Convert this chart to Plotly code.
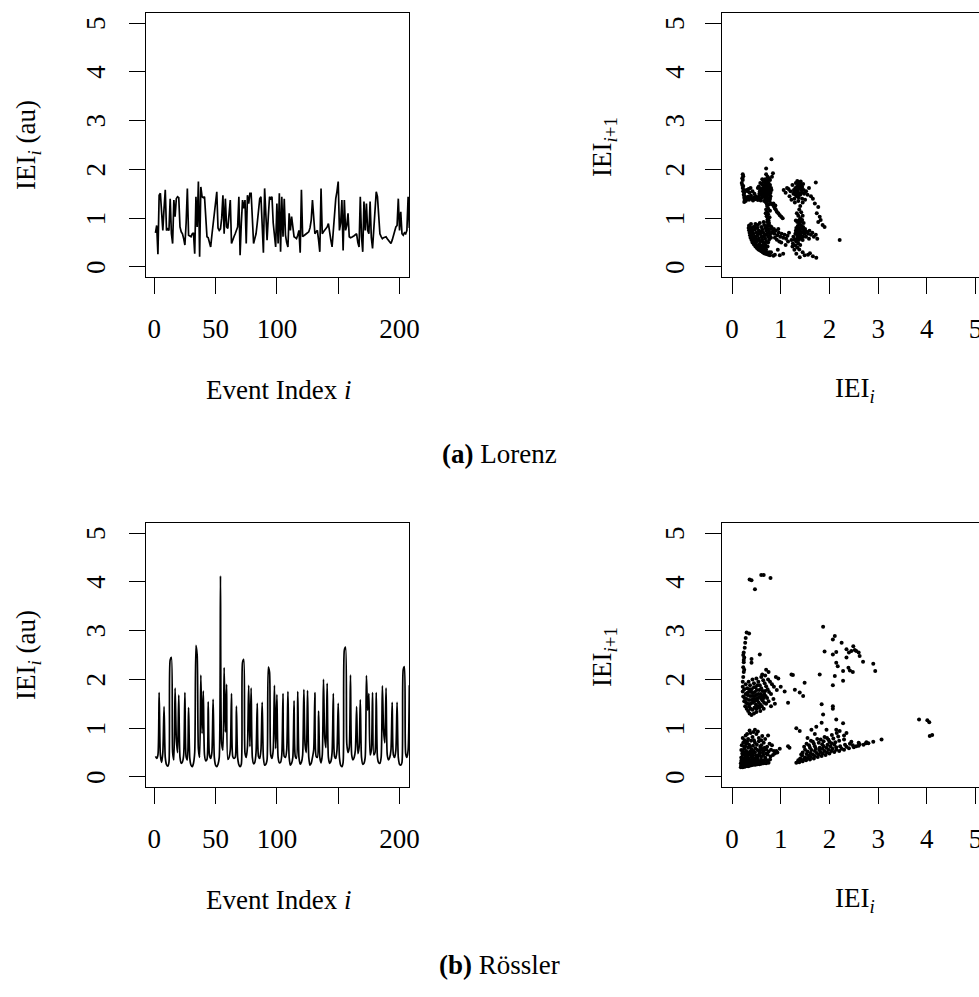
import plotly.graph_objects as go

# ---------------- data ----------------
lorenz_iei = [
    0.70, 0.85, 0.26, 1.47, 1.51, 1.10, 0.75, 1.20, 1.58, 0.75,
    0.78, 0.75, 1.40, 0.68, 0.48, 1.37, 1.03, 1.40, 1.44, 1.42,
    0.82, 0.72, 0.68, 0.58, 0.45, 0.90, 1.61, 0.65, 0.64, 0.62,
    0.68, 0.70, 0.27, 1.44, 0.82, 1.75, 0.21, 1.64, 1.44, 1.42,
    1.44, 0.96, 0.62, 0.60, 0.52, 0.41, 0.65, 0.90, 1.10, 1.35,
    1.54, 0.80, 0.75, 0.78, 1.00, 1.47, 0.68, 1.40, 0.82, 0.79,
    1.10, 1.37, 0.48, 0.58, 0.62, 0.68, 0.75, 0.82, 1.44, 0.24,
    0.90, 1.37, 1.20, 1.37, 0.48, 1.47, 1.30, 1.51, 1.51, 0.82,
    0.48, 0.58, 0.68, 0.90, 1.20, 1.40, 1.44, 0.82, 0.29, 1.61,
    1.00, 0.55, 1.03, 1.44, 1.40, 1.44, 0.90, 0.55, 0.41, 1.30,
    0.48, 1.51, 0.31, 1.44, 0.62, 1.40, 0.65, 0.50, 0.41, 1.10,
    0.75, 1.03, 0.80, 0.62, 0.60, 0.58, 0.65, 0.75, 0.29, 1.58,
    0.62, 0.65, 0.66, 0.68, 0.70, 0.72, 0.80, 0.96, 1.37, 0.90,
    0.68, 0.72, 0.75, 0.55, 0.31, 1.61, 0.68, 0.72, 0.75, 0.78,
    0.82, 0.89, 0.68, 0.55, 0.41, 0.80, 1.23, 1.40, 1.55, 1.75,
    0.75, 0.90, 1.37, 0.34, 1.37, 0.75, 0.85, 1.10, 0.62, 0.60,
    0.61, 0.62, 0.64, 0.66, 0.68, 0.50, 0.41, 1.44, 0.62, 0.31,
    1.34, 0.75, 1.30, 0.75, 0.68, 1.34, 0.60, 0.38, 0.82, 1.20,
    1.54, 1.44, 0.90, 0.68, 0.62, 0.58, 0.60, 0.61, 0.62, 0.58,
    0.55, 0.52, 0.48, 0.55, 0.65, 0.75, 0.82, 0.85, 1.40, 0.75,
    1.13, 0.68, 0.65, 0.70, 0.68, 0.75, 1.44, 0.80,
]

rossler_iei = [
    0.42, 0.38, 0.45, 1.73, 0.45, 0.30, 0.50, 1.44, 0.40, 0.25,
    0.22, 0.30, 2.40, 2.45, 0.51, 0.35, 1.82, 0.79, 0.50, 1.68,
    0.40, 0.28, 0.31, 0.45, 1.73, 0.41, 0.35, 1.42, 0.38, 0.24,
    0.21, 0.28, 0.50, 2.70, 2.50, 0.58, 0.40, 2.09, 0.89, 1.76,
    0.45, 0.33, 0.36, 1.54, 0.45, 0.38, 0.50, 1.59, 0.40, 0.24,
    0.21, 0.26, 0.40, 4.12, 0.68, 0.55, 2.24, 0.92, 1.90, 0.36,
    0.40, 0.55, 1.71, 0.42, 0.38, 0.40, 1.45, 0.40, 0.25, 0.21,
    0.26, 2.35, 2.41, 0.49, 0.40, 0.62, 1.88, 0.62, 1.82, 0.40,
    0.27, 0.30, 0.50, 1.51, 0.42, 0.38, 0.55, 1.53, 0.40, 0.24,
    0.26, 0.35, 2.25, 2.15, 0.45, 0.38, 0.55, 1.88, 0.58, 1.69,
    0.40, 0.29, 0.30, 0.45, 1.71, 0.42, 0.40, 0.55, 1.75, 0.40,
    0.24, 0.28, 0.40, 1.56, 0.42, 0.38, 1.75, 0.40, 0.26, 0.30,
    0.45, 1.79, 0.65, 0.50, 1.77, 0.40, 0.24, 0.28, 0.40, 0.55,
    1.73, 0.42, 0.40, 1.35, 0.40, 0.29, 0.45, 2.00, 0.82, 0.60,
    1.92, 0.40, 0.28, 0.32, 0.50, 1.71, 0.42, 0.38, 0.55, 1.51,
    0.40, 0.24, 0.21, 0.30, 2.60, 2.66, 0.68, 0.50, 0.60, 2.09,
    0.45, 0.35, 0.40, 0.55, 1.44, 0.48, 0.60, 1.58, 0.40, 0.26,
    0.28, 0.40, 2.08, 1.37, 1.71, 0.45, 0.55, 1.73, 0.45, 0.50,
    1.73, 0.40, 0.29, 0.28, 0.40, 1.87, 0.96, 0.70, 1.82, 0.45,
    0.35, 0.40, 0.55, 1.53, 0.45, 0.40, 0.55, 1.53, 0.40, 0.26,
    0.24, 0.30, 2.20, 2.26, 0.48, 0.40, 0.55, 1.88,
]

# return map of the Lorenz system: (IEI_i, IEI_i+1)
lorenz_map = [
    (0.22,1.90),(0.23,1.86),(0.21,1.82),(0.22,1.78),(0.20,1.72),(0.21,1.68),(0.23,1.66),(0.22,1.62),
    (0.24,1.58),(0.23,1.55),(0.25,1.52),(0.24,1.48),(0.26,1.45),(0.25,1.42),(0.27,1.40),(0.26,1.37),
    (0.28,1.35),(0.25,1.33),(0.29,1.38),(0.30,1.42),
    (0.31,1.40),(0.33,1.44),(0.35,1.38),(0.37,1.42),(0.39,1.46),(0.41,1.40),(0.43,1.36),(0.45,1.43),
    (0.47,1.39),(0.49,1.45),(0.51,1.41),(0.53,1.37),(0.55,1.44),(0.57,1.40),(0.59,1.36),(0.61,1.42),
    (0.32,1.55),(0.34,1.60),(0.36,1.52),(0.30,1.58),(0.38,1.62),(0.42,1.55),(0.46,1.50),
    (0.55,1.65),(0.58,1.72),(0.60,1.60),(0.62,1.55),(0.63,1.68),(0.65,1.75),(0.66,1.62),(0.67,1.50),
    (0.68,1.80),(0.69,1.70),(0.70,1.58),(0.71,1.45),(0.72,1.65),(0.73,1.35),(0.74,1.55),(0.75,1.72),
    (0.76,1.48),(0.77,1.62),(0.78,1.40),(0.79,1.52),(0.80,1.30),(0.81,1.58),(0.68,1.40),(0.70,1.32),
    (0.72,1.25),(0.74,1.20),(0.76,1.28),(0.64,1.45),(0.66,1.35),(0.78,1.78),(0.73,1.85),(0.70,1.90),
    (0.82,1.85),(0.84,1.92),(0.70,2.02),(0.81,2.21),(0.62,1.80),(0.57,1.55),(0.53,1.62),
    (0.61,1.70),(0.64,1.62),(0.66,1.78),(0.67,1.56),(0.69,1.64),(0.70,1.75),(0.71,1.52),(0.72,1.42),
    (0.73,1.60),(0.74,1.68),(0.75,1.38),(0.76,1.58),(0.77,1.50),(0.78,1.68),(0.79,1.45),(0.80,1.62),
    (0.71,1.30),(0.73,1.48),(0.75,1.62),(0.77,1.35),(0.69,1.50),(0.67,1.68),(0.65,1.55),(0.63,1.50),
    (0.60,1.48),(0.58,1.60),(0.56,1.50),(0.74,1.78),(0.76,1.82),(0.72,1.72),
    (0.70,1.18),(0.72,1.12),(0.74,1.08),(0.71,1.04),(0.73,0.98),(0.75,0.95),(0.72,0.92),(0.76,0.90),
    (0.74,0.86),(0.78,1.15),(0.69,1.10),(0.77,1.02),
    (0.83,1.28),(0.86,1.24),(0.88,1.20),(0.90,1.17),(0.92,1.13),(0.95,1.10),(0.98,1.06),(1.01,1.03),
    (1.04,1.00),(0.85,1.30),(0.89,1.26),
    (0.35,0.85),(0.34,0.80),(0.35,0.75),(0.36,0.70),(0.37,0.65),(0.38,0.60),(0.40,0.55),(0.42,0.50),
    (0.45,0.46),(0.48,0.42),(0.51,0.39),(0.54,0.36),(0.57,0.34),(0.60,0.32),(0.63,0.30),(0.66,0.28),
    (0.69,0.27),(0.72,0.26),(0.75,0.25),(0.78,0.24),(0.36,0.82),(0.38,0.72),(0.40,0.63),(0.43,0.55),
    (0.46,0.50),(0.50,0.45),(0.53,0.42),(0.56,0.40),(0.59,0.37),(0.62,0.35),(0.65,0.33),(0.68,0.31),
    (0.71,0.29),
    (0.40,0.80),(0.42,0.74),(0.44,0.68),(0.46,0.62),(0.48,0.57),(0.50,0.52),(0.44,0.82),(0.47,0.76),
    (0.50,0.70),(0.52,0.64),(0.55,0.58),(0.58,0.52),(0.52,0.80),(0.55,0.74),(0.58,0.68),(0.60,0.62),
    (0.62,0.56),(0.64,0.50),(0.60,0.82),(0.62,0.76),(0.64,0.70),(0.66,0.64),(0.68,0.58),(0.70,0.52),
    (0.66,0.86),(0.68,0.80),(0.70,0.74),(0.72,0.68),(0.74,0.62),(0.76,0.56),(0.72,0.84),(0.74,0.78),
    (0.76,0.72),(0.78,0.66),(0.80,0.60),(0.78,0.84),(0.80,0.78),(0.82,0.70),(0.56,0.47),(0.62,0.44),
    (0.68,0.46),(0.74,0.50),(0.39,0.88),(0.48,0.88),(0.57,0.90),(0.65,0.92),(0.45,0.60),(0.55,0.55),
    (0.67,0.40),(0.73,0.42),(0.80,0.30),(0.85,0.23),(0.88,0.25),
    (0.37,0.78),(0.39,0.68),(0.41,0.60),(0.44,0.52),(0.47,0.47),(0.52,0.44),(0.58,0.42),(0.64,0.38),
    (0.70,0.35),(0.76,0.30),(0.41,0.70),(0.49,0.62),(0.54,0.68),(0.63,0.62),(0.69,0.66),(0.71,0.80),
    (0.60,0.72),(0.47,0.82),(0.53,0.86),(0.81,0.82),
    (0.84,0.72),(0.87,0.68),(0.90,0.74),(0.93,0.65),(0.96,0.70),(0.99,0.62),(1.02,0.68),(1.05,0.60),
    (1.08,0.66),(1.11,0.58),(1.14,0.64),(1.17,0.70),(0.88,0.60),(0.92,0.56),(0.97,0.52),(1.01,0.50),
    (0.98,0.24),(1.05,0.27),(0.94,0.35),(1.10,0.45),(1.15,0.52),(0.86,0.78),(0.95,0.78),
    (1.06,1.58),(1.10,1.52),(1.13,1.62),(1.18,1.45),(1.20,1.55),(1.24,1.68),(1.26,1.50),(1.28,1.40),
    (1.30,1.62),(1.31,1.72),(1.33,1.45),(1.35,1.55),(1.36,1.35),(1.38,1.65),(1.40,1.48),(1.42,1.58),
    (1.44,1.40),(1.46,1.70),(1.48,1.50),(1.50,1.38),(1.52,1.55),(1.55,1.48),(1.58,1.62),(1.62,1.45),
    (1.66,1.40),(1.72,1.73),(1.29,1.32),(1.34,1.76),(1.41,1.75),(1.22,1.38),(1.16,1.60),(1.37,1.42),
    (1.45,1.32),(1.27,1.58),
    (1.32,1.52),(1.34,1.66),(1.36,1.60),(1.38,1.50),(1.39,1.72),(1.41,1.62),(1.43,1.52),(1.37,1.70),
    (1.33,1.58),(1.30,1.48),(1.44,1.64),(1.47,1.58),(1.35,1.48),(1.42,1.68),(1.28,1.55),
    (1.40,1.25),(1.38,1.18),(1.42,1.12),(1.36,1.05),(1.40,1.00),(1.44,0.96),(1.34,0.92),(1.38,0.88),
    (1.42,0.85),(1.46,0.82),(1.32,0.80),(1.36,0.76),(1.40,0.72),(1.44,0.70),(1.30,0.68),(1.34,0.64),
    (1.38,0.60),(1.42,0.58),(1.46,0.62),(1.28,0.56),(1.32,0.52),(1.36,0.48),(1.40,0.45),(1.30,0.44),
    (1.34,0.40),(1.38,0.36),(1.28,0.35),(1.25,0.48),(1.22,0.55),(1.48,0.75),(1.45,1.05),(1.33,1.10),
    (1.31,0.95),(1.47,0.90),(1.26,0.62),(1.24,0.42),
    (1.37,0.95),(1.41,0.92),(1.39,0.80),(1.43,0.78),(1.35,0.70),(1.39,0.66),(1.33,0.58),(1.37,0.55),
    (1.41,0.65),(1.45,0.55),(1.35,0.84),(1.31,0.74),
    (1.50,0.78),(1.53,0.72),(1.56,0.68),(1.59,0.74),(1.62,0.66),(1.65,0.70),(1.68,0.62),(1.72,0.66),
    (1.52,0.62),(1.58,0.58),(1.75,0.58),(1.49,0.68),
    (1.32,0.27),(1.39,0.20),(1.49,0.24),(1.56,0.25),(1.66,0.22),(1.73,0.19),(1.45,0.30),(1.60,0.28),
    (1.77,1.23),(1.80,1.03),(1.86,0.86),(1.90,0.82),(1.77,0.92),(1.74,1.10),(2.21,0.55),(1.70,1.30),
    (1.82,0.96),
]

# return map of the Rossler system: (IEI_i, IEI_i+1)
rossler_map = [
    # lower-left blob
    (0.18,0.20),(0.20,0.21),(0.22,0.20),(0.24,0.22),(0.26,0.21),(0.28,0.22),(0.30,0.23),(0.33,0.22),
    (0.36,0.23),(0.40,0.24),(0.44,0.25),(0.48,0.25),(0.52,0.26),(0.56,0.26),(0.60,0.27),(0.65,0.28),
    (0.70,0.28),(0.75,0.29),
    (0.18,0.28),(0.21,0.30),(0.24,0.27),(0.27,0.32),(0.30,0.29),(0.33,0.34),(0.36,0.30),(0.39,0.33),
    (0.42,0.29),(0.45,0.35),(0.48,0.31),(0.51,0.34),(0.55,0.32),(0.60,0.35),(0.66,0.33),(0.72,0.34),
    (0.78,0.36),
    (0.19,0.40),(0.22,0.45),(0.25,0.38),(0.28,0.47),(0.31,0.42),(0.34,0.39),(0.37,0.46),(0.40,0.41),
    (0.43,0.48),(0.46,0.38),(0.49,0.44),(0.52,0.40),(0.56,0.47),(0.60,0.42),(0.64,0.45),(0.68,0.40),
    (0.73,0.46),(0.79,0.42),(0.84,0.45),(0.88,0.48),
    (0.19,0.55),(0.22,0.52),(0.25,0.58),(0.29,0.53),(0.33,0.60),(0.36,0.51),(0.40,0.57),(0.44,0.53),
    (0.48,0.59),(0.52,0.55),(0.56,0.51),(0.61,0.58),(0.65,0.53),(0.70,0.57),(0.75,0.52),(0.80,0.56),
    (0.86,0.53),(0.91,0.53),
    (0.20,0.65),(0.23,0.70),(0.27,0.63),(0.31,0.72),(0.35,0.66),(0.39,0.74),(0.43,0.64),(0.47,0.70),
    (0.51,0.66),(0.55,0.73),(0.60,0.65),(0.65,0.70),(0.72,0.62),(0.77,0.68),(0.82,0.65),
    (0.22,0.80),(0.28,0.85),(0.33,0.78),(0.38,0.90),(0.42,0.82),(0.47,0.97),(0.50,0.88),(0.55,0.80),
    (0.62,0.84),(0.68,0.78),(0.74,0.85),(0.36,0.95),(0.44,0.92),
    (1.15,0.63),(1.18,0.60),(0.98,0.58),(0.93,0.50),
    (0.19,0.24),(0.21,0.26),(0.23,0.24),(0.25,0.25),(0.27,0.26),(0.29,0.25),(0.31,0.27),(0.19,0.33),
    (0.23,0.35),(0.26,0.34),(0.29,0.36),(0.20,0.37),
    (0.20,0.23),(0.22,0.28),(0.24,0.31),(0.26,0.29),(0.28,0.33),(0.30,0.31),(0.32,0.28),(0.34,0.27),
    (0.35,0.36),(0.38,0.27),(0.41,0.36),(0.43,0.31),(0.46,0.28),(0.50,0.29),(0.53,0.37),(0.57,0.30),
    (0.62,0.31),(0.68,0.36),(0.21,0.48),(0.24,0.50),(0.27,0.43),(0.30,0.50),(0.33,0.46),(0.38,0.52),
    (0.42,0.44),(0.47,0.50),(0.54,0.44),(0.58,0.56),(0.63,0.50),(0.70,0.48),(0.25,0.62),(0.29,0.68),
    (0.37,0.62),(0.45,0.75),(0.58,0.62),(0.67,0.60),(0.26,0.75),(0.31,0.88),(0.53,0.93),(0.60,0.75),
    # upper-left cluster
    (0.23,2.05),(0.24,2.15),(0.23,2.25),(0.24,2.35),(0.25,2.45),(0.24,2.55),(0.26,2.65),(0.27,2.75),
    (0.28,2.85),(0.30,2.96),(0.35,2.94),(0.23,2.50),(0.25,2.20),(0.22,1.95),(0.24,2.40),
    (0.22,1.85),(0.22,1.75),(0.23,1.65),(0.25,1.55),(0.27,1.45),(0.30,1.40),(0.33,1.35),(0.36,1.30),
    (0.40,1.27),(0.45,1.30),(0.50,1.33),(0.25,1.80),(0.28,1.70),(0.30,1.60),(0.32,1.50),(0.35,1.45),
    (0.38,1.40),(0.42,1.38),(0.46,1.42),(0.50,1.40),(0.28,1.90),(0.31,1.82),(0.34,1.74),(0.37,1.66),
    (0.40,1.58),(0.43,1.52),(0.46,1.55),(0.49,1.48),(0.53,1.45),(0.56,1.42),(0.34,1.95),(0.37,1.88),
    (0.40,1.80),(0.43,1.72),(0.46,1.66),(0.49,1.60),(0.52,1.56),(0.55,1.52),(0.58,1.48),(0.61,1.45),
    (0.42,2.00),(0.45,1.92),(0.48,1.84),(0.51,1.78),(0.54,1.70),(0.57,1.64),(0.60,1.60),(0.63,1.56),
    (0.66,1.52),(0.50,2.02),(0.54,1.95),(0.57,1.88),(0.60,1.82),(0.63,1.76),(0.66,1.70),(0.69,1.66),
    (0.72,1.62),(0.60,2.05),(0.64,1.98),(0.67,1.92),(0.70,1.86),(0.73,1.80),(0.76,1.74),(0.80,1.70),
    (0.62,2.10),(0.68,2.08),(0.74,2.00),(0.78,1.95),(0.82,1.90),(0.86,1.85),(0.90,2.05),(0.95,2.02),
    (0.70,1.50),(0.75,1.55),(0.80,1.45),(0.85,1.60),(0.65,1.40),(0.58,1.35),(0.88,1.50),(0.40,2.42),
    (0.57,2.51),(0.40,2.34),(0.70,2.20),(0.75,2.15),
    (0.26,1.62),(0.29,1.52),(0.32,1.68),(0.35,1.58),(0.38,1.50),(0.41,1.66),(0.44,1.60),(0.47,1.74),
    (0.50,1.68),(0.53,1.62),(0.56,1.78),(0.59,1.70),(0.62,1.66),(0.65,1.62),(0.68,1.76),(0.39,1.74),
    (0.45,1.84),(0.52,1.88),(0.31,1.72),(0.36,1.80),
    (1.08,1.75),(1.15,1.52),(1.29,1.79),(1.39,1.73),(1.46,1.66),(1.49,1.93),(1.25,2.09),(1.22,2.10),
    (1.00,1.85),(0.92,1.78),
    # lower-right wedge
    (1.32,0.29),(1.38,0.30),(1.45,0.32),(1.52,0.34),(1.60,0.36),(1.68,0.38),(1.76,0.41),(1.84,0.43),
    (1.92,0.45),(2.00,0.48),(2.10,0.51),(2.20,0.53),(2.30,0.56),(2.40,0.59),(2.50,0.61),(2.60,0.64),
    (2.70,0.66),(2.80,0.69),(2.90,0.72),(3.07,0.77),
    (1.40,0.38),(1.50,0.40),(1.58,0.44),(1.66,0.46),(1.74,0.49),(1.82,0.51),(1.90,0.53),(1.98,0.56),
    (2.06,0.58),(2.14,0.61),(2.22,0.63),(2.32,0.66),(2.42,0.68),
    (1.45,0.50),(1.55,0.52),(1.63,0.55),(1.72,0.58),(1.80,0.60),(1.88,0.63),(1.96,0.66),(2.04,0.69),
    (2.12,0.71),(2.20,0.74),(2.30,0.77),
    (1.48,0.62),(1.58,0.65),(1.68,0.68),(1.78,0.70),(1.88,0.73),(1.98,0.76),(2.08,0.79),(2.18,0.83),
    (1.62,0.74),(1.75,0.78),(1.90,0.82),(2.05,0.86),(2.15,0.90),
    (1.36,0.34),(1.42,0.35),(1.48,0.37),(1.55,0.39),(1.62,0.41),(1.70,0.43),(1.78,0.46),(1.86,0.48),
    (1.95,0.50),(2.04,0.53),(2.14,0.56),(2.25,0.58),(2.35,0.62),(2.48,0.65),(2.62,0.67),(2.75,0.69),
    (1.44,0.44),(1.53,0.47),(1.61,0.49),(1.70,0.53),(1.79,0.55),(1.86,0.58),(1.94,0.60),(2.02,0.63),
    (2.10,0.66),(1.50,0.56),(1.60,0.60),(1.70,0.63),(1.85,0.67),(2.00,0.72),(1.53,0.68),(1.66,0.72),
    (1.82,0.77),(1.95,0.80),(1.42,0.46),
    (1.32,1.00),(1.39,0.94),(1.63,0.97),(1.73,1.03),(1.94,0.97),(2.14,0.97),(2.21,0.94),(1.84,1.49),
    (1.87,1.28),(1.84,1.11),(2.07,1.45),(2.07,1.40),(2.14,1.18),(2.28,1.10),(2.35,0.90),(2.55,0.63),
    (2.76,0.71),(2.60,0.70),(2.45,0.72),(1.55,0.80),(1.70,0.88),(2.30,0.85),
    # upper-right cluster
    (1.87,3.08),(2.11,2.89),(2.07,2.82),(2.25,2.75),(1.90,2.57),(2.07,2.51),(2.14,2.56),(2.35,2.62),
    (2.49,2.68),(2.55,2.58),(2.62,2.48),(2.69,2.36),(2.35,2.45),(2.45,2.58),(2.52,2.60),(2.14,2.34),
    (2.17,2.27),(2.39,2.24),(2.42,2.18),(2.28,2.17),(2.48,2.15),(2.90,2.32),(2.94,2.17),(1.80,2.10),
    (2.11,2.07),(2.07,1.88),(2.28,1.97),(2.40,2.55),(2.60,2.55),
    # isolated groups
    (0.36,4.05),(0.40,4.03),(0.47,3.85),(0.60,4.14),(0.65,4.14),(0.79,4.08),
    (3.84,1.18),(4.01,1.16),(4.05,1.12),(4.06,0.84),(4.11,0.86),
]

index_ticks = [0, 50, 100, 150, 200]
index_ticktext = ["0", "50", "100", "", "200"]
iei_ticks = [0, 1, 2, 3, 4, 5]

# ---------------- figure ----------------
W, H = 979, 997
FONT = "Liberation Serif"
FS = 27


def fx(px):
    return px / W


def fy(py):
    return 1 - py / H


fig = go.Figure()

fig.add_trace(go.Scatter(
    x=list(range(1, len(lorenz_iei) + 1)), y=lorenz_iei, mode="lines",
    line=dict(color="black", width=1.7), xaxis="x", yaxis="y"))
fig.add_trace(go.Scatter(
    x=[p[0] for p in lorenz_map], y=[p[1] for p in lorenz_map], mode="markers",
    marker=dict(color="black", size=4), xaxis="x2", yaxis="y2"))
fig.add_trace(go.Scatter(
    x=list(range(1, len(rossler_iei) + 1)), y=rossler_iei, mode="lines",
    line=dict(color="black", width=1.7, shape="spline", smoothing=0.7),
    xaxis="x3", yaxis="y3"))
fig.add_trace(go.Scatter(
    x=[p[0] for p in rossler_map], y=[p[1] for p in rossler_map], mode="markers",
    marker=dict(color="black", size=4), xaxis="x4", yaxis="y4"))

common = dict(
    showline=True, linecolor="black", linewidth=1.4,
    ticks="outside", ticklen=16, tickwidth=1.4, tickcolor="black",
    showgrid=False, zeroline=False,
    tickfont=dict(family=FONT, size=FS, color="black"),
    automargin=False,
)

left_dom = [fx(145.7), fx(409.3)]
right_dom = [fx(722.3), 1.0]
top_dom = [fy(276.7), fy(13.3)]
bot_dom = [fy(786.7), fy(523.3)]

xl = dict(common, range=[-6.96, 207.96], tickvals=index_ticks, ticktext=index_ticktext,
          mirror=True, ticklabelstandoff=12)
xr = dict(common, range=[-0.2, 5.071], tickvals=iei_ticks, mirror=True, ticklabelstandoff=12,
          ticklabeloverflow="allow")
# y tick labels are drawn rotated (parallel to the axis) as annotations below
yl = dict(common, range=[-0.2, 5.2], tickvals=iei_ticks, showticklabels=False, mirror=True)
yr = dict(common, range=[-0.2, 5.2], tickvals=iei_ticks, showticklabels=False, mirror=False)

fig.update_layout(
    width=W, height=H, margin=dict(l=0, r=0, t=0, b=0),
    paper_bgcolor="white", plot_bgcolor="white", showlegend=False,
    font=dict(family=FONT, size=FS, color="black"),
    xaxis=dict(xl, domain=left_dom, anchor="y"),
    yaxis=dict(yl, domain=top_dom, anchor="x"),
    xaxis2=dict(xr, domain=right_dom, anchor="y2"),
    yaxis2=dict(yr, domain=top_dom, anchor="x2"),
    xaxis3=dict(xl, domain=left_dom, anchor="y3"),
    yaxis3=dict(yl, domain=bot_dom, anchor="x3"),
    xaxis4=dict(xr, domain=right_dom, anchor="y4"),
    yaxis4=dict(yr, domain=bot_dom, anchor="x4"),
)


def ann(text, x, y, angle=0):
    return dict(text=text, x=fx(x), y=fy(y), xref="paper", yref="paper",
                xanchor="center", yanchor="middle", showarrow=False, textangle=angle,
                font=dict(family=FONT, size=FS, color="black"))


annotations = []
for dy in (0, 510):
    annotations.append(ann("Event Index <i>i</i>", 278, 390 + dy))
    annotations.append(ann("IEI<sub><i>i</i></sub>", 855, 390 + dy))
    annotations.append(ann("IEI<sub><i>i</i></sub> (au)", 28, 145 + dy, -90))
    annotations.append(ann("IEI<sub><i>i</i>+1</sub>", 604, 147 + dy, -90))
annotations.append(ann("<b>(a)</b> Lorenz", 500, 454))
annotations.append(ann("<b>(b)</b> Rössler", 500, 965))

# rotated y tick labels, placed on the y axes' own scale
for yref, xpx in (("y", 96), ("y2", 675), ("y3", 96), ("y4", 675)):
    for v in iei_ticks:
        annotations.append(dict(text=str(v), x=fx(xpx), y=v, xref="paper", yref=yref,
                                xanchor="center", yanchor="middle", showarrow=False,
                                textangle=-90,
                                font=dict(family=FONT, size=FS, color="black")))
fig.update_layout(annotations=annotations)

fig.write_html("out.html")
